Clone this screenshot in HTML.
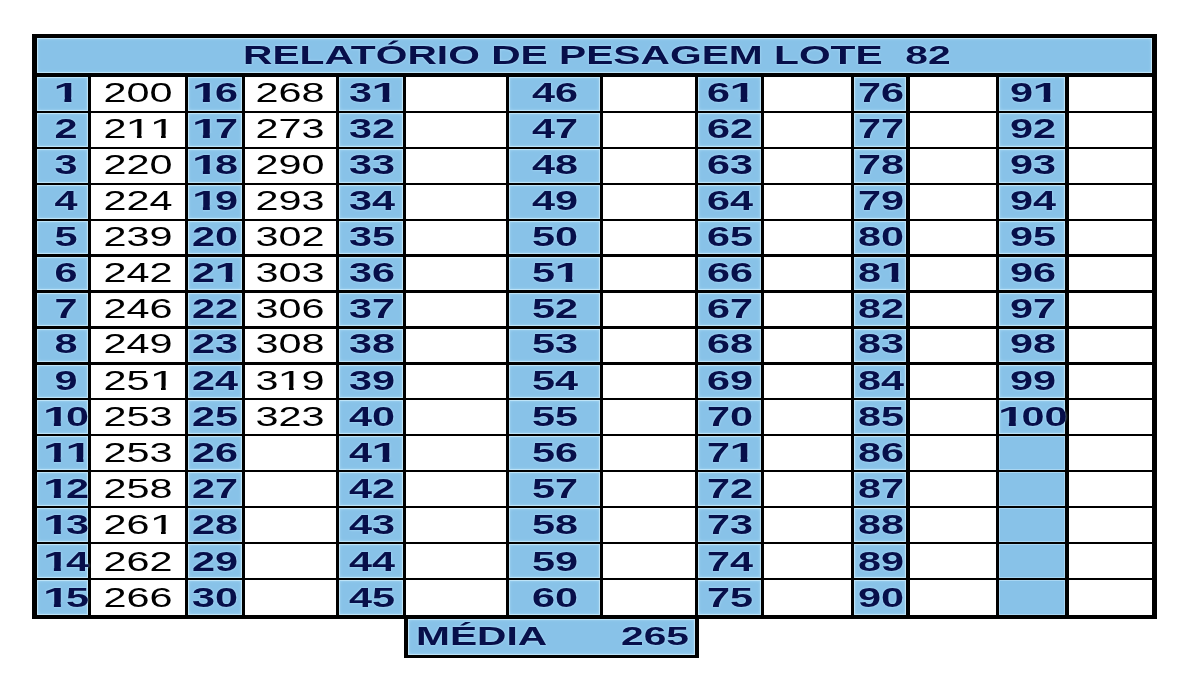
<!DOCTYPE html>
<html lang="pt"><head><meta charset="utf-8"><title>Relatório de Pesagem Lote 82</title>
<style>
html,body{margin:0;padding:0;background:#fff;}
body{width:1200px;height:700px;position:relative;overflow:hidden;font-family:"Liberation Sans",Arial,sans-serif;}
.r{position:absolute;}
.k{background:#000;}
.w{background:#fff;}
.bl{background:#88c2e8;box-shadow:inset 0 0 0 1px #bde3f7,inset 0 0 3px 1px rgba(178,222,248,.7);}
.bl2{background:#88c2e8;box-shadow:inset 0 0 0 1px #a9d6f2;}
.t{position:absolute;width:200px;text-align:center;white-space:nowrap;font-size:27.5px;line-height:1;height:27.5px;transform:scaleX(1.505);}
.t i{font-style:normal;display:inline-block;transform-origin:.095em 0;transform:scaleX(1.15);clip-path:polygon(0 0,100% 0,100% .70em,.342em .70em,.342em 100%,.243em 100%,.243em .70em,0 .70em);}
.b i{transform-origin:.07em 0;transform:scaleX(1.16);clip-path:polygon(0 0,100% 0,100% .66em,.372em .66em,.372em 100%,.228em 100%,.228em .66em,0 .66em);}
.b{font-weight:bold;color:#070f4a;text-shadow:0 0 2px rgba(190,232,255,.9);}
.v{color:#000;}
.h{position:absolute;white-space:nowrap;font-weight:bold;color:#070f4a;font-size:26.5px;line-height:1;transform-origin:0 0;transform:scaleX(1.537);text-shadow:0 0 2px rgba(190,232,255,.9);}
</style></head><body>
<div class="r k" style="left:32px;top:34px;width:1125px;height:585.3px"></div>
<div class="r bl" style="left:37.0px;top:37.7px;width:1115.0px;height:35.7px;"></div>
<div class="r bl" style="left:37.0px;top:76.8px;width:51.4px;height:34.1px;"></div>
<div class="r w" style="left:91.2px;top:76.8px;width:94.2px;height:34.1px;"></div>
<div class="t b" style="left:-33.7px;top:79.1px"><i>1</i></div>
<div class="t v" style="left:38.3px;top:79.1px">200</div>
<div class="r bl" style="left:37.0px;top:113.1px;width:51.4px;height:33.7px;"></div>
<div class="r w" style="left:91.2px;top:113.1px;width:94.2px;height:33.7px;"></div>
<div class="t b" style="left:-33.7px;top:115.0px">2</div>
<div class="t v" style="left:38.3px;top:115.0px">2<i>1</i><i>1</i></div>
<div class="r bl" style="left:37.0px;top:149.0px;width:51.4px;height:33.7px;"></div>
<div class="r w" style="left:91.2px;top:149.0px;width:94.2px;height:33.7px;"></div>
<div class="t b" style="left:-33.7px;top:150.9px">3</div>
<div class="t v" style="left:38.3px;top:150.9px">220</div>
<div class="r bl" style="left:37.0px;top:184.9px;width:51.4px;height:33.7px;"></div>
<div class="r w" style="left:91.2px;top:184.9px;width:94.2px;height:33.7px;"></div>
<div class="t b" style="left:-33.7px;top:186.8px">4</div>
<div class="t v" style="left:38.3px;top:186.8px">224</div>
<div class="r bl" style="left:37.0px;top:220.8px;width:51.4px;height:33.7px;"></div>
<div class="r w" style="left:91.2px;top:220.8px;width:94.2px;height:33.7px;"></div>
<div class="t b" style="left:-33.7px;top:222.7px">5</div>
<div class="t v" style="left:38.3px;top:222.7px">239</div>
<div class="r bl" style="left:37.0px;top:256.7px;width:51.4px;height:33.7px;"></div>
<div class="r w" style="left:91.2px;top:256.7px;width:94.2px;height:33.7px;"></div>
<div class="t b" style="left:-33.7px;top:258.6px">6</div>
<div class="t v" style="left:38.3px;top:258.6px">242</div>
<div class="r bl" style="left:37.0px;top:292.6px;width:51.4px;height:33.7px;"></div>
<div class="r w" style="left:91.2px;top:292.6px;width:94.2px;height:33.7px;"></div>
<div class="t b" style="left:-33.7px;top:294.5px">7</div>
<div class="t v" style="left:38.3px;top:294.5px">246</div>
<div class="r bl" style="left:37.0px;top:328.6px;width:51.4px;height:33.7px;"></div>
<div class="r w" style="left:91.2px;top:328.6px;width:94.2px;height:33.7px;"></div>
<div class="t b" style="left:-33.7px;top:330.4px">8</div>
<div class="t v" style="left:38.3px;top:330.4px">249</div>
<div class="r bl" style="left:37.0px;top:364.5px;width:51.4px;height:33.7px;"></div>
<div class="r w" style="left:91.2px;top:364.5px;width:94.2px;height:33.7px;"></div>
<div class="t b" style="left:-33.7px;top:366.6px">9</div>
<div class="t v" style="left:38.3px;top:366.6px">25<i>1</i></div>
<div class="r bl" style="left:37.0px;top:400.4px;width:51.4px;height:33.7px;"></div>
<div class="r w" style="left:91.2px;top:400.4px;width:94.2px;height:33.7px;"></div>
<div class="t b" style="left:-33.7px;top:402.8px"><i>1</i>0</div>
<div class="t v" style="left:38.3px;top:402.8px">253</div>
<div class="r bl" style="left:37.0px;top:436.3px;width:51.4px;height:33.7px;"></div>
<div class="r w" style="left:91.2px;top:436.3px;width:94.2px;height:33.7px;"></div>
<div class="t b" style="left:-33.7px;top:439.0px"><i>1</i><i>1</i></div>
<div class="t v" style="left:38.3px;top:439.0px">253</div>
<div class="r bl" style="left:37.0px;top:472.2px;width:51.4px;height:33.7px;"></div>
<div class="r w" style="left:91.2px;top:472.2px;width:94.2px;height:33.7px;"></div>
<div class="t b" style="left:-33.7px;top:475.2px"><i>1</i>2</div>
<div class="t v" style="left:38.3px;top:475.2px">258</div>
<div class="r bl" style="left:37.0px;top:508.1px;width:51.4px;height:33.7px;"></div>
<div class="r w" style="left:91.2px;top:508.1px;width:94.2px;height:33.7px;"></div>
<div class="t b" style="left:-33.7px;top:511.4px"><i>1</i>3</div>
<div class="t v" style="left:38.3px;top:511.4px">26<i>1</i></div>
<div class="r bl" style="left:37.0px;top:544.0px;width:51.4px;height:33.7px;"></div>
<div class="r w" style="left:91.2px;top:544.0px;width:94.2px;height:33.7px;"></div>
<div class="t b" style="left:-33.7px;top:547.6px"><i>1</i>4</div>
<div class="t v" style="left:38.3px;top:547.6px">262</div>
<div class="r bl" style="left:37.0px;top:579.9px;width:51.4px;height:35.5px;"></div>
<div class="r w" style="left:91.2px;top:579.9px;width:94.2px;height:35.5px;"></div>
<div class="t b" style="left:-33.7px;top:583.8px"><i>1</i>5</div>
<div class="t v" style="left:38.3px;top:583.8px">266</div>
<div class="r bl" style="left:188.1px;top:76.8px;width:53.7px;height:34.1px;"></div>
<div class="r w" style="left:244.6px;top:76.8px;width:91.6px;height:34.1px;"></div>
<div class="t b" style="left:115.4px;top:79.1px"><i>1</i>6</div>
<div class="t v" style="left:190.4px;top:79.1px">268</div>
<div class="r bl" style="left:188.1px;top:113.1px;width:53.7px;height:33.7px;"></div>
<div class="r w" style="left:244.6px;top:113.1px;width:91.6px;height:33.7px;"></div>
<div class="t b" style="left:115.4px;top:115.0px"><i>1</i>7</div>
<div class="t v" style="left:190.4px;top:115.0px">273</div>
<div class="r bl" style="left:188.1px;top:149.0px;width:53.7px;height:33.7px;"></div>
<div class="r w" style="left:244.6px;top:149.0px;width:91.6px;height:33.7px;"></div>
<div class="t b" style="left:115.4px;top:150.9px"><i>1</i>8</div>
<div class="t v" style="left:190.4px;top:150.9px">290</div>
<div class="r bl" style="left:188.1px;top:184.9px;width:53.7px;height:33.7px;"></div>
<div class="r w" style="left:244.6px;top:184.9px;width:91.6px;height:33.7px;"></div>
<div class="t b" style="left:115.4px;top:186.8px"><i>1</i>9</div>
<div class="t v" style="left:190.4px;top:186.8px">293</div>
<div class="r bl" style="left:188.1px;top:220.8px;width:53.7px;height:33.7px;"></div>
<div class="r w" style="left:244.6px;top:220.8px;width:91.6px;height:33.7px;"></div>
<div class="t b" style="left:115.4px;top:222.7px">20</div>
<div class="t v" style="left:190.4px;top:222.7px">302</div>
<div class="r bl" style="left:188.1px;top:256.7px;width:53.7px;height:33.7px;"></div>
<div class="r w" style="left:244.6px;top:256.7px;width:91.6px;height:33.7px;"></div>
<div class="t b" style="left:115.4px;top:258.6px">2<i>1</i></div>
<div class="t v" style="left:190.4px;top:258.6px">303</div>
<div class="r bl" style="left:188.1px;top:292.6px;width:53.7px;height:33.7px;"></div>
<div class="r w" style="left:244.6px;top:292.6px;width:91.6px;height:33.7px;"></div>
<div class="t b" style="left:115.4px;top:294.5px">22</div>
<div class="t v" style="left:190.4px;top:294.5px">306</div>
<div class="r bl" style="left:188.1px;top:328.6px;width:53.7px;height:33.7px;"></div>
<div class="r w" style="left:244.6px;top:328.6px;width:91.6px;height:33.7px;"></div>
<div class="t b" style="left:115.4px;top:330.4px">23</div>
<div class="t v" style="left:190.4px;top:330.4px">308</div>
<div class="r bl" style="left:188.1px;top:364.5px;width:53.7px;height:33.7px;"></div>
<div class="r w" style="left:244.6px;top:364.5px;width:91.6px;height:33.7px;"></div>
<div class="t b" style="left:115.4px;top:366.6px">24</div>
<div class="t v" style="left:190.4px;top:366.6px">3<i>1</i>9</div>
<div class="r bl" style="left:188.1px;top:400.4px;width:53.7px;height:33.7px;"></div>
<div class="r w" style="left:244.6px;top:400.4px;width:91.6px;height:33.7px;"></div>
<div class="t b" style="left:115.4px;top:402.8px">25</div>
<div class="t v" style="left:190.4px;top:402.8px">323</div>
<div class="r bl" style="left:188.1px;top:436.3px;width:53.7px;height:33.7px;"></div>
<div class="r w" style="left:244.6px;top:436.3px;width:91.6px;height:33.7px;"></div>
<div class="t b" style="left:115.4px;top:439.0px">26</div>
<div class="r bl" style="left:188.1px;top:472.2px;width:53.7px;height:33.7px;"></div>
<div class="r w" style="left:244.6px;top:472.2px;width:91.6px;height:33.7px;"></div>
<div class="t b" style="left:115.4px;top:475.2px">27</div>
<div class="r bl" style="left:188.1px;top:508.1px;width:53.7px;height:33.7px;"></div>
<div class="r w" style="left:244.6px;top:508.1px;width:91.6px;height:33.7px;"></div>
<div class="t b" style="left:115.4px;top:511.4px">28</div>
<div class="r bl" style="left:188.1px;top:544.0px;width:53.7px;height:33.7px;"></div>
<div class="r w" style="left:244.6px;top:544.0px;width:91.6px;height:33.7px;"></div>
<div class="t b" style="left:115.4px;top:547.6px">29</div>
<div class="r bl" style="left:188.1px;top:579.9px;width:53.7px;height:35.5px;"></div>
<div class="r w" style="left:244.6px;top:579.9px;width:91.6px;height:35.5px;"></div>
<div class="t b" style="left:115.4px;top:583.8px">30</div>
<div class="r bl" style="left:339.1px;top:76.8px;width:64.3px;height:34.1px;"></div>
<div class="r w" style="left:406.3px;top:76.8px;width:99.6px;height:34.1px;"></div>
<div class="t b" style="left:271.8px;top:79.1px">3<i>1</i></div>
<div class="r bl" style="left:339.1px;top:113.1px;width:64.3px;height:33.7px;"></div>
<div class="r w" style="left:406.3px;top:113.1px;width:99.6px;height:33.7px;"></div>
<div class="t b" style="left:271.8px;top:115.0px">32</div>
<div class="r bl" style="left:339.1px;top:149.0px;width:64.3px;height:33.7px;"></div>
<div class="r w" style="left:406.3px;top:149.0px;width:99.6px;height:33.7px;"></div>
<div class="t b" style="left:271.8px;top:150.9px">33</div>
<div class="r bl" style="left:339.1px;top:184.9px;width:64.3px;height:33.7px;"></div>
<div class="r w" style="left:406.3px;top:184.9px;width:99.6px;height:33.7px;"></div>
<div class="t b" style="left:271.8px;top:186.8px">34</div>
<div class="r bl" style="left:339.1px;top:220.8px;width:64.3px;height:33.7px;"></div>
<div class="r w" style="left:406.3px;top:220.8px;width:99.6px;height:33.7px;"></div>
<div class="t b" style="left:271.8px;top:222.7px">35</div>
<div class="r bl" style="left:339.1px;top:256.7px;width:64.3px;height:33.7px;"></div>
<div class="r w" style="left:406.3px;top:256.7px;width:99.6px;height:33.7px;"></div>
<div class="t b" style="left:271.8px;top:258.6px">36</div>
<div class="r bl" style="left:339.1px;top:292.6px;width:64.3px;height:33.7px;"></div>
<div class="r w" style="left:406.3px;top:292.6px;width:99.6px;height:33.7px;"></div>
<div class="t b" style="left:271.8px;top:294.5px">37</div>
<div class="r bl" style="left:339.1px;top:328.6px;width:64.3px;height:33.7px;"></div>
<div class="r w" style="left:406.3px;top:328.6px;width:99.6px;height:33.7px;"></div>
<div class="t b" style="left:271.8px;top:330.4px">38</div>
<div class="r bl" style="left:339.1px;top:364.5px;width:64.3px;height:33.7px;"></div>
<div class="r w" style="left:406.3px;top:364.5px;width:99.6px;height:33.7px;"></div>
<div class="t b" style="left:271.8px;top:366.6px">39</div>
<div class="r bl" style="left:339.1px;top:400.4px;width:64.3px;height:33.7px;"></div>
<div class="r w" style="left:406.3px;top:400.4px;width:99.6px;height:33.7px;"></div>
<div class="t b" style="left:271.8px;top:402.8px">40</div>
<div class="r bl" style="left:339.1px;top:436.3px;width:64.3px;height:33.7px;"></div>
<div class="r w" style="left:406.3px;top:436.3px;width:99.6px;height:33.7px;"></div>
<div class="t b" style="left:271.8px;top:439.0px">4<i>1</i></div>
<div class="r bl" style="left:339.1px;top:472.2px;width:64.3px;height:33.7px;"></div>
<div class="r w" style="left:406.3px;top:472.2px;width:99.6px;height:33.7px;"></div>
<div class="t b" style="left:271.8px;top:475.2px">42</div>
<div class="r bl" style="left:339.1px;top:508.1px;width:64.3px;height:33.7px;"></div>
<div class="r w" style="left:406.3px;top:508.1px;width:99.6px;height:33.7px;"></div>
<div class="t b" style="left:271.8px;top:511.4px">43</div>
<div class="r bl" style="left:339.1px;top:544.0px;width:64.3px;height:33.7px;"></div>
<div class="r w" style="left:406.3px;top:544.0px;width:99.6px;height:33.7px;"></div>
<div class="t b" style="left:271.8px;top:547.6px">44</div>
<div class="r bl" style="left:339.1px;top:579.9px;width:64.3px;height:35.5px;"></div>
<div class="r w" style="left:406.3px;top:579.9px;width:99.6px;height:35.5px;"></div>
<div class="t b" style="left:271.8px;top:583.8px">45</div>
<div class="r bl" style="left:508.9px;top:76.8px;width:90.7px;height:34.1px;"></div>
<div class="r w" style="left:602.6px;top:76.8px;width:92.0px;height:34.1px;"></div>
<div class="t b" style="left:454.8px;top:79.1px">46</div>
<div class="r bl" style="left:508.9px;top:113.1px;width:90.7px;height:33.7px;"></div>
<div class="r w" style="left:602.6px;top:113.1px;width:92.0px;height:33.7px;"></div>
<div class="t b" style="left:454.8px;top:115.0px">47</div>
<div class="r bl" style="left:508.9px;top:149.0px;width:90.7px;height:33.7px;"></div>
<div class="r w" style="left:602.6px;top:149.0px;width:92.0px;height:33.7px;"></div>
<div class="t b" style="left:454.8px;top:150.9px">48</div>
<div class="r bl" style="left:508.9px;top:184.9px;width:90.7px;height:33.7px;"></div>
<div class="r w" style="left:602.6px;top:184.9px;width:92.0px;height:33.7px;"></div>
<div class="t b" style="left:454.8px;top:186.8px">49</div>
<div class="r bl" style="left:508.9px;top:220.8px;width:90.7px;height:33.7px;"></div>
<div class="r w" style="left:602.6px;top:220.8px;width:92.0px;height:33.7px;"></div>
<div class="t b" style="left:454.8px;top:222.7px">50</div>
<div class="r bl" style="left:508.9px;top:256.7px;width:90.7px;height:33.7px;"></div>
<div class="r w" style="left:602.6px;top:256.7px;width:92.0px;height:33.7px;"></div>
<div class="t b" style="left:454.8px;top:258.6px">5<i>1</i></div>
<div class="r bl" style="left:508.9px;top:292.6px;width:90.7px;height:33.7px;"></div>
<div class="r w" style="left:602.6px;top:292.6px;width:92.0px;height:33.7px;"></div>
<div class="t b" style="left:454.8px;top:294.5px">52</div>
<div class="r bl" style="left:508.9px;top:328.6px;width:90.7px;height:33.7px;"></div>
<div class="r w" style="left:602.6px;top:328.6px;width:92.0px;height:33.7px;"></div>
<div class="t b" style="left:454.8px;top:330.4px">53</div>
<div class="r bl" style="left:508.9px;top:364.5px;width:90.7px;height:33.7px;"></div>
<div class="r w" style="left:602.6px;top:364.5px;width:92.0px;height:33.7px;"></div>
<div class="t b" style="left:454.8px;top:366.6px">54</div>
<div class="r bl" style="left:508.9px;top:400.4px;width:90.7px;height:33.7px;"></div>
<div class="r w" style="left:602.6px;top:400.4px;width:92.0px;height:33.7px;"></div>
<div class="t b" style="left:454.8px;top:402.8px">55</div>
<div class="r bl" style="left:508.9px;top:436.3px;width:90.7px;height:33.7px;"></div>
<div class="r w" style="left:602.6px;top:436.3px;width:92.0px;height:33.7px;"></div>
<div class="t b" style="left:454.8px;top:439.0px">56</div>
<div class="r bl" style="left:508.9px;top:472.2px;width:90.7px;height:33.7px;"></div>
<div class="r w" style="left:602.6px;top:472.2px;width:92.0px;height:33.7px;"></div>
<div class="t b" style="left:454.8px;top:475.2px">57</div>
<div class="r bl" style="left:508.9px;top:508.1px;width:90.7px;height:33.7px;"></div>
<div class="r w" style="left:602.6px;top:508.1px;width:92.0px;height:33.7px;"></div>
<div class="t b" style="left:454.8px;top:511.4px">58</div>
<div class="r bl" style="left:508.9px;top:544.0px;width:90.7px;height:33.7px;"></div>
<div class="r w" style="left:602.6px;top:544.0px;width:92.0px;height:33.7px;"></div>
<div class="t b" style="left:454.8px;top:547.6px">59</div>
<div class="r bl" style="left:508.9px;top:579.9px;width:90.7px;height:35.5px;"></div>
<div class="r w" style="left:602.6px;top:579.9px;width:92.0px;height:35.5px;"></div>
<div class="t b" style="left:454.8px;top:583.8px">60</div>
<div class="r bl" style="left:697.6px;top:76.8px;width:63.5px;height:34.1px;"></div>
<div class="r w" style="left:764.1px;top:76.8px;width:86.7px;height:34.1px;"></div>
<div class="t b" style="left:629.9px;top:79.1px">6<i>1</i></div>
<div class="r bl" style="left:697.6px;top:113.1px;width:63.5px;height:33.7px;"></div>
<div class="r w" style="left:764.1px;top:113.1px;width:86.7px;height:33.7px;"></div>
<div class="t b" style="left:629.9px;top:115.0px">62</div>
<div class="r bl" style="left:697.6px;top:149.0px;width:63.5px;height:33.7px;"></div>
<div class="r w" style="left:764.1px;top:149.0px;width:86.7px;height:33.7px;"></div>
<div class="t b" style="left:629.9px;top:150.9px">63</div>
<div class="r bl" style="left:697.6px;top:184.9px;width:63.5px;height:33.7px;"></div>
<div class="r w" style="left:764.1px;top:184.9px;width:86.7px;height:33.7px;"></div>
<div class="t b" style="left:629.9px;top:186.8px">64</div>
<div class="r bl" style="left:697.6px;top:220.8px;width:63.5px;height:33.7px;"></div>
<div class="r w" style="left:764.1px;top:220.8px;width:86.7px;height:33.7px;"></div>
<div class="t b" style="left:629.9px;top:222.7px">65</div>
<div class="r bl" style="left:697.6px;top:256.7px;width:63.5px;height:33.7px;"></div>
<div class="r w" style="left:764.1px;top:256.7px;width:86.7px;height:33.7px;"></div>
<div class="t b" style="left:629.9px;top:258.6px">66</div>
<div class="r bl" style="left:697.6px;top:292.6px;width:63.5px;height:33.7px;"></div>
<div class="r w" style="left:764.1px;top:292.6px;width:86.7px;height:33.7px;"></div>
<div class="t b" style="left:629.9px;top:294.5px">67</div>
<div class="r bl" style="left:697.6px;top:328.6px;width:63.5px;height:33.7px;"></div>
<div class="r w" style="left:764.1px;top:328.6px;width:86.7px;height:33.7px;"></div>
<div class="t b" style="left:629.9px;top:330.4px">68</div>
<div class="r bl" style="left:697.6px;top:364.5px;width:63.5px;height:33.7px;"></div>
<div class="r w" style="left:764.1px;top:364.5px;width:86.7px;height:33.7px;"></div>
<div class="t b" style="left:629.9px;top:366.6px">69</div>
<div class="r bl" style="left:697.6px;top:400.4px;width:63.5px;height:33.7px;"></div>
<div class="r w" style="left:764.1px;top:400.4px;width:86.7px;height:33.7px;"></div>
<div class="t b" style="left:629.9px;top:402.8px">70</div>
<div class="r bl" style="left:697.6px;top:436.3px;width:63.5px;height:33.7px;"></div>
<div class="r w" style="left:764.1px;top:436.3px;width:86.7px;height:33.7px;"></div>
<div class="t b" style="left:629.9px;top:439.0px">7<i>1</i></div>
<div class="r bl" style="left:697.6px;top:472.2px;width:63.5px;height:33.7px;"></div>
<div class="r w" style="left:764.1px;top:472.2px;width:86.7px;height:33.7px;"></div>
<div class="t b" style="left:629.9px;top:475.2px">72</div>
<div class="r bl" style="left:697.6px;top:508.1px;width:63.5px;height:33.7px;"></div>
<div class="r w" style="left:764.1px;top:508.1px;width:86.7px;height:33.7px;"></div>
<div class="t b" style="left:629.9px;top:511.4px">73</div>
<div class="r bl" style="left:697.6px;top:544.0px;width:63.5px;height:33.7px;"></div>
<div class="r w" style="left:764.1px;top:544.0px;width:86.7px;height:33.7px;"></div>
<div class="t b" style="left:629.9px;top:547.6px">74</div>
<div class="r bl" style="left:697.6px;top:579.9px;width:63.5px;height:35.5px;"></div>
<div class="r w" style="left:764.1px;top:579.9px;width:86.7px;height:35.5px;"></div>
<div class="t b" style="left:629.9px;top:583.8px">75</div>
<div class="r bl" style="left:853.7px;top:76.8px;width:52.8px;height:34.1px;"></div>
<div class="r w" style="left:909.5px;top:76.8px;width:86.3px;height:34.1px;"></div>
<div class="t b" style="left:780.6px;top:79.1px">76</div>
<div class="r bl" style="left:853.7px;top:113.1px;width:52.8px;height:33.7px;"></div>
<div class="r w" style="left:909.5px;top:113.1px;width:86.3px;height:33.7px;"></div>
<div class="t b" style="left:780.6px;top:115.0px">77</div>
<div class="r bl" style="left:853.7px;top:149.0px;width:52.8px;height:33.7px;"></div>
<div class="r w" style="left:909.5px;top:149.0px;width:86.3px;height:33.7px;"></div>
<div class="t b" style="left:780.6px;top:150.9px">78</div>
<div class="r bl" style="left:853.7px;top:184.9px;width:52.8px;height:33.7px;"></div>
<div class="r w" style="left:909.5px;top:184.9px;width:86.3px;height:33.7px;"></div>
<div class="t b" style="left:780.6px;top:186.8px">79</div>
<div class="r bl" style="left:853.7px;top:220.8px;width:52.8px;height:33.7px;"></div>
<div class="r w" style="left:909.5px;top:220.8px;width:86.3px;height:33.7px;"></div>
<div class="t b" style="left:780.6px;top:222.7px">80</div>
<div class="r bl" style="left:853.7px;top:256.7px;width:52.8px;height:33.7px;"></div>
<div class="r w" style="left:909.5px;top:256.7px;width:86.3px;height:33.7px;"></div>
<div class="t b" style="left:780.6px;top:258.6px">8<i>1</i></div>
<div class="r bl" style="left:853.7px;top:292.6px;width:52.8px;height:33.7px;"></div>
<div class="r w" style="left:909.5px;top:292.6px;width:86.3px;height:33.7px;"></div>
<div class="t b" style="left:780.6px;top:294.5px">82</div>
<div class="r bl" style="left:853.7px;top:328.6px;width:52.8px;height:33.7px;"></div>
<div class="r w" style="left:909.5px;top:328.6px;width:86.3px;height:33.7px;"></div>
<div class="t b" style="left:780.6px;top:330.4px">83</div>
<div class="r bl" style="left:853.7px;top:364.5px;width:52.8px;height:33.7px;"></div>
<div class="r w" style="left:909.5px;top:364.5px;width:86.3px;height:33.7px;"></div>
<div class="t b" style="left:780.6px;top:366.6px">84</div>
<div class="r bl" style="left:853.7px;top:400.4px;width:52.8px;height:33.7px;"></div>
<div class="r w" style="left:909.5px;top:400.4px;width:86.3px;height:33.7px;"></div>
<div class="t b" style="left:780.6px;top:402.8px">85</div>
<div class="r bl" style="left:853.7px;top:436.3px;width:52.8px;height:33.7px;"></div>
<div class="r w" style="left:909.5px;top:436.3px;width:86.3px;height:33.7px;"></div>
<div class="t b" style="left:780.6px;top:439.0px">86</div>
<div class="r bl" style="left:853.7px;top:472.2px;width:52.8px;height:33.7px;"></div>
<div class="r w" style="left:909.5px;top:472.2px;width:86.3px;height:33.7px;"></div>
<div class="t b" style="left:780.6px;top:475.2px">87</div>
<div class="r bl" style="left:853.7px;top:508.1px;width:52.8px;height:33.7px;"></div>
<div class="r w" style="left:909.5px;top:508.1px;width:86.3px;height:33.7px;"></div>
<div class="t b" style="left:780.6px;top:511.4px">88</div>
<div class="r bl" style="left:853.7px;top:544.0px;width:52.8px;height:33.7px;"></div>
<div class="r w" style="left:909.5px;top:544.0px;width:86.3px;height:33.7px;"></div>
<div class="t b" style="left:780.6px;top:547.6px">89</div>
<div class="r bl" style="left:853.7px;top:579.9px;width:52.8px;height:35.5px;"></div>
<div class="r w" style="left:909.5px;top:579.9px;width:86.3px;height:35.5px;"></div>
<div class="t b" style="left:780.6px;top:583.8px">90</div>
<div class="r bl" style="left:998.8px;top:76.8px;width:66.7px;height:34.1px;"></div>
<div class="r w" style="left:1068.5px;top:76.8px;width:83.5px;height:34.1px;"></div>
<div class="t b" style="left:932.7px;top:79.1px">9<i>1</i></div>
<div class="r bl" style="left:998.8px;top:113.1px;width:66.7px;height:33.7px;"></div>
<div class="r w" style="left:1068.5px;top:113.1px;width:83.5px;height:33.7px;"></div>
<div class="t b" style="left:932.7px;top:115.0px">92</div>
<div class="r bl" style="left:998.8px;top:149.0px;width:66.7px;height:33.7px;"></div>
<div class="r w" style="left:1068.5px;top:149.0px;width:83.5px;height:33.7px;"></div>
<div class="t b" style="left:932.7px;top:150.9px">93</div>
<div class="r bl" style="left:998.8px;top:184.9px;width:66.7px;height:33.7px;"></div>
<div class="r w" style="left:1068.5px;top:184.9px;width:83.5px;height:33.7px;"></div>
<div class="t b" style="left:932.7px;top:186.8px">94</div>
<div class="r bl" style="left:998.8px;top:220.8px;width:66.7px;height:33.7px;"></div>
<div class="r w" style="left:1068.5px;top:220.8px;width:83.5px;height:33.7px;"></div>
<div class="t b" style="left:932.7px;top:222.7px">95</div>
<div class="r bl" style="left:998.8px;top:256.7px;width:66.7px;height:33.7px;"></div>
<div class="r w" style="left:1068.5px;top:256.7px;width:83.5px;height:33.7px;"></div>
<div class="t b" style="left:932.7px;top:258.6px">96</div>
<div class="r bl" style="left:998.8px;top:292.6px;width:66.7px;height:33.7px;"></div>
<div class="r w" style="left:1068.5px;top:292.6px;width:83.5px;height:33.7px;"></div>
<div class="t b" style="left:932.7px;top:294.5px">97</div>
<div class="r bl" style="left:998.8px;top:328.6px;width:66.7px;height:33.7px;"></div>
<div class="r w" style="left:1068.5px;top:328.6px;width:83.5px;height:33.7px;"></div>
<div class="t b" style="left:932.7px;top:330.4px">98</div>
<div class="r bl" style="left:998.8px;top:364.5px;width:66.7px;height:33.7px;"></div>
<div class="r w" style="left:1068.5px;top:364.5px;width:83.5px;height:33.7px;"></div>
<div class="t b" style="left:932.7px;top:366.6px">99</div>
<div class="r bl" style="left:998.8px;top:400.4px;width:66.7px;height:33.7px;"></div>
<div class="r w" style="left:1068.5px;top:400.4px;width:83.5px;height:33.7px;"></div>
<div class="t b" style="left:932.7px;top:402.8px"><i>1</i>00</div>
<div class="r bl2" style="left:998.8px;top:436.3px;width:66.7px;height:33.7px;"></div>
<div class="r w" style="left:1068.5px;top:436.3px;width:83.5px;height:33.7px;"></div>
<div class="r bl2" style="left:998.8px;top:472.2px;width:66.7px;height:33.7px;"></div>
<div class="r w" style="left:1068.5px;top:472.2px;width:83.5px;height:33.7px;"></div>
<div class="r bl2" style="left:998.8px;top:508.1px;width:66.7px;height:33.7px;"></div>
<div class="r w" style="left:1068.5px;top:508.1px;width:83.5px;height:33.7px;"></div>
<div class="r bl2" style="left:998.8px;top:544.0px;width:66.7px;height:33.7px;"></div>
<div class="r w" style="left:1068.5px;top:544.0px;width:83.5px;height:33.7px;"></div>
<div class="r bl2" style="left:998.8px;top:579.9px;width:66.7px;height:35.5px;"></div>
<div class="r w" style="left:1068.5px;top:579.9px;width:83.5px;height:35.5px;"></div>
<div class="r k" style="left:404px;top:617px;width:295px;height:41.3px"></div>
<div class="r bl" style="left:408px;top:619.3px;width:286.6px;height:35.7px"></div>
<div class="h" id="title" style="left:242.5px;top:42.1px">RELATÓRIO DE PESAGEM LOTE&nbsp;&nbsp;82</div>
<div class="h" id="media" style="left:415.7px;top:622.8px">MÉDIA</div>
<div class="h" id="mval" style="left:621px;top:623.0px">265</div>
</body></html>
